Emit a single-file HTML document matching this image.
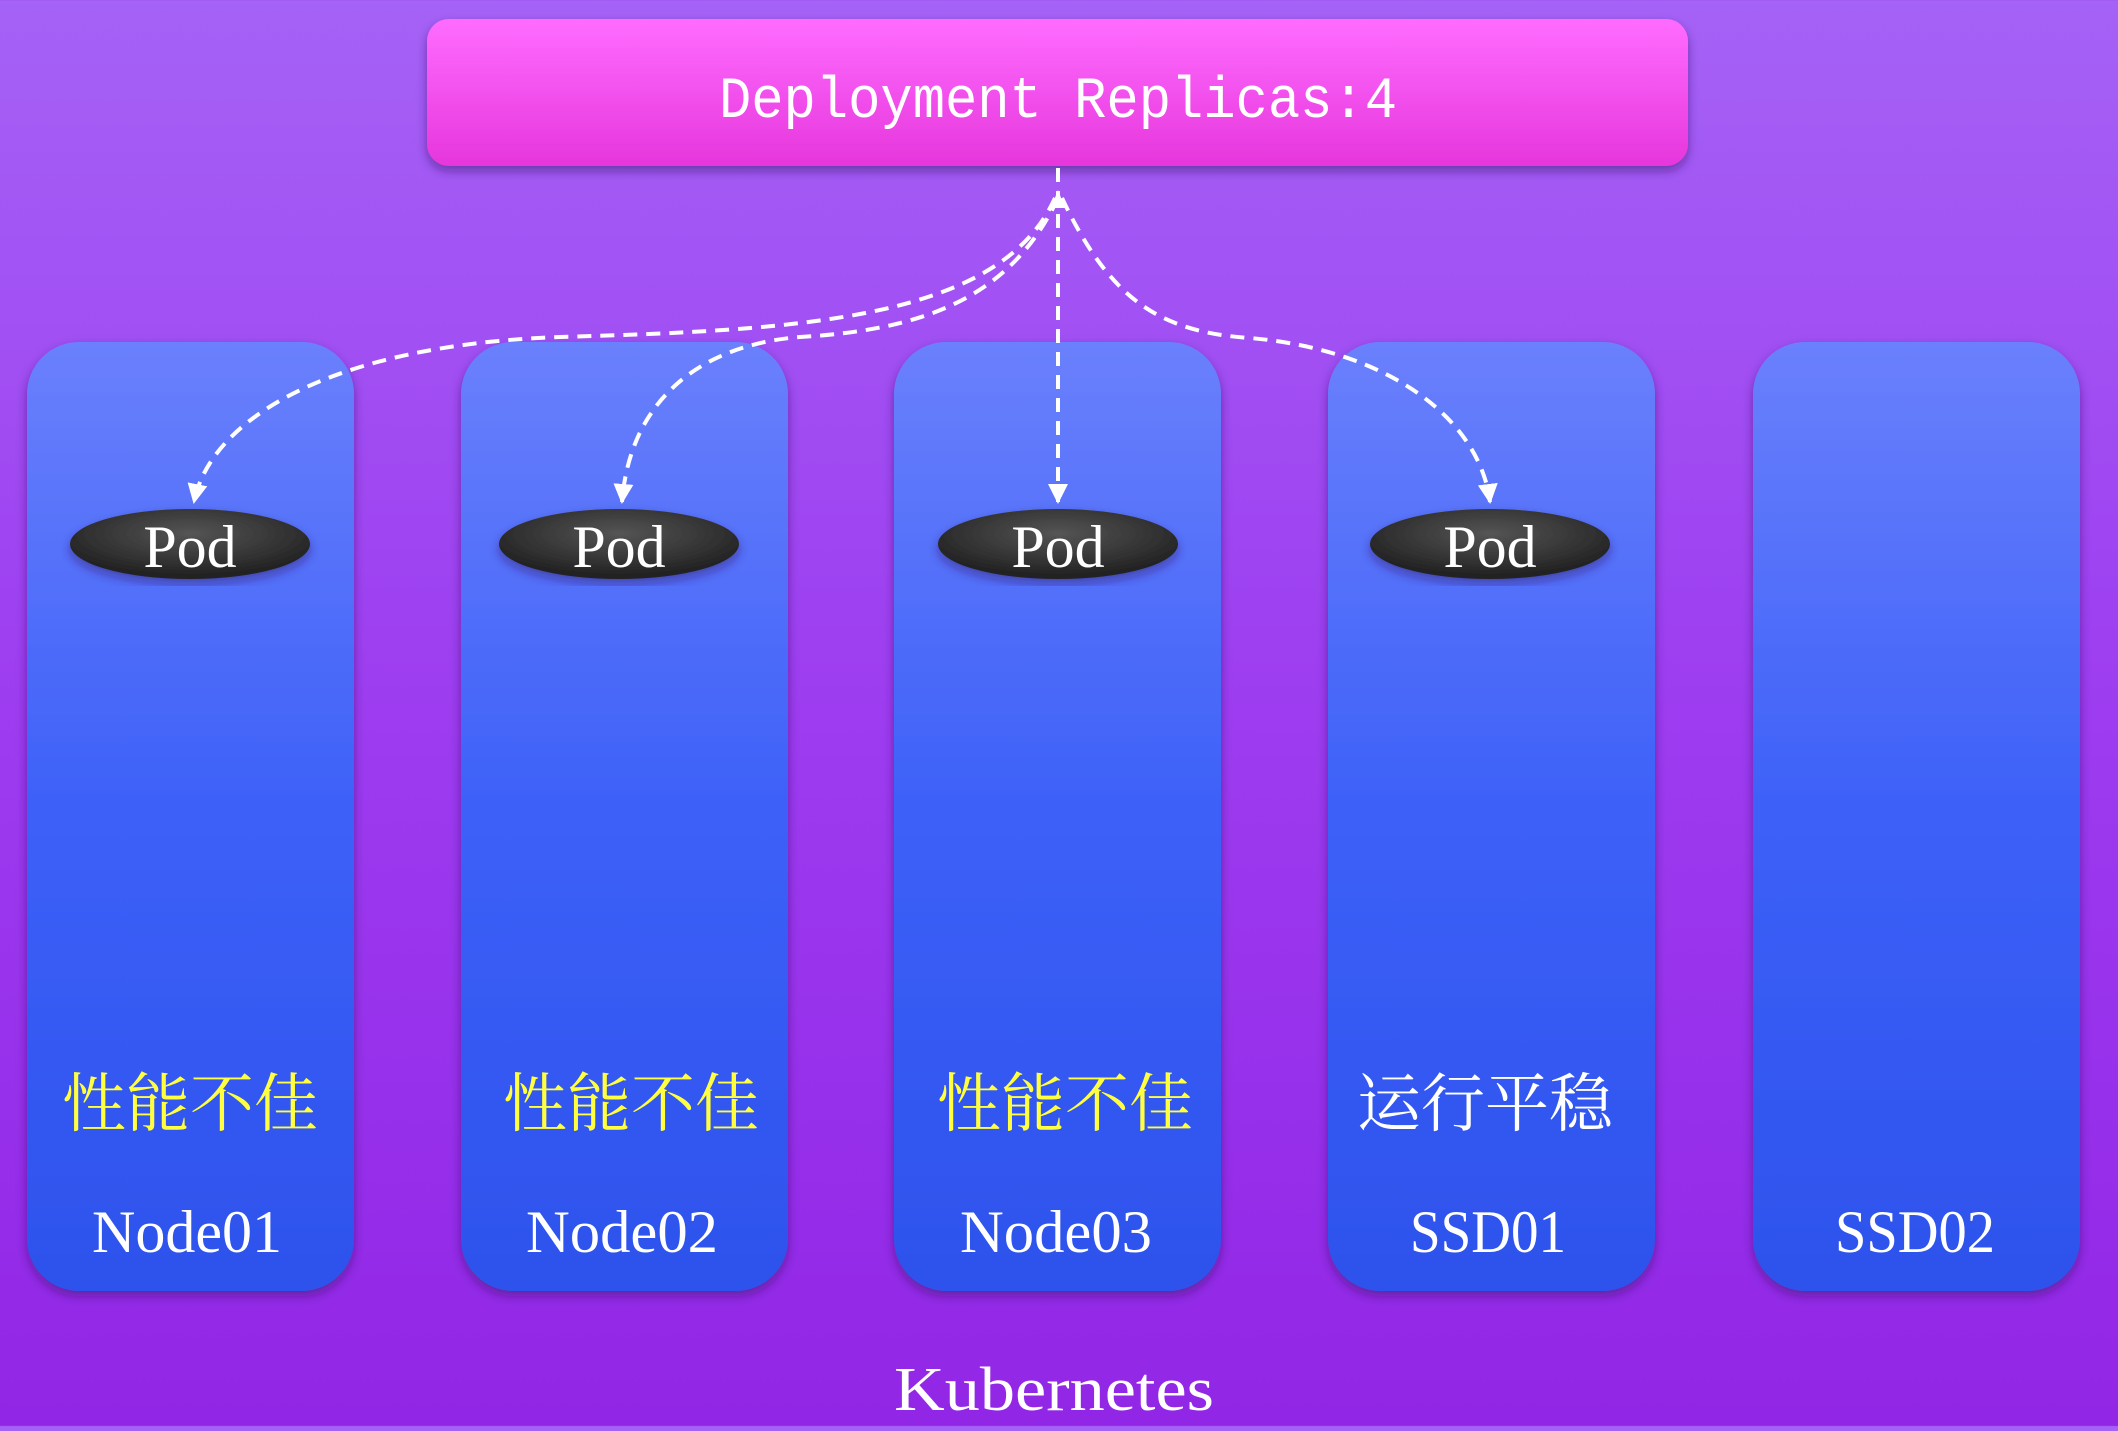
<!DOCTYPE html>
<html><head><meta charset="utf-8"><style>
html,body{margin:0;padding:0}
body{width:2118px;height:1426px;overflow:hidden;background:linear-gradient(#a562f6,#9d3cf0 50%,#9226e6);}
</style></head><body>
<svg width="2118" height="1426" viewBox="0 0 2118 1426" xmlns="http://www.w3.org/2000/svg">
<defs>
<linearGradient id="col" x1="0" y1="0" x2="0" y2="1"><stop offset="0" stop-color="#6a80fc"/><stop offset="0.5" stop-color="#3c60f8"/><stop offset="1" stop-color="#2d52ec"/></linearGradient>
<linearGradient id="pk" x1="0" y1="0" x2="0" y2="1"><stop offset="0" stop-color="#ff6cff"/><stop offset="1" stop-color="#e636dc"/></linearGradient>
<radialGradient id="pod" cx="0.5" cy="0.35" r="0.6"><stop offset="0" stop-color="#555"/><stop offset="1" stop-color="#222"/></radialGradient>
<filter id="sh" x="-10%" y="-10%" width="120%" height="120%"><feDropShadow dx="0" dy="5" stdDeviation="5" flood-color="#301060" flood-opacity="0.5"/></filter>
<marker id="ar" markerWidth="6" markerHeight="6" refX="4.5" refY="2.5" orient="auto" markerUnits="strokeWidth"><path d="M0,0 L5,2.5 L0,5 Z" fill="#fff"/></marker>
</defs>
<rect x="427" y="19" width="1261" height="147" rx="22" fill="url(#pk)" filter="url(#sh)"/>
<text x="1058" y="117" text-anchor="middle" font-family="Liberation Mono, monospace" font-size="47" fill="#fff" textLength="678" lengthAdjust="spacingAndGlyphs" transform="translate(0,-29) scale(1,1.25)">Deployment Replicas:4</text>
<g filter="url(#sh)" fill="url(#col)">
<rect x="27" y="342" width="327" height="949" rx="52"/>
<rect x="461" y="342" width="327" height="949" rx="52"/>
<rect x="894" y="342" width="327" height="949" rx="52"/>
<rect x="1328" y="342" width="327" height="949" rx="52"/>
<rect x="1753" y="342" width="327" height="949" rx="52"/>
</g>
<g fill="none" stroke="#fff" stroke-width="4" stroke-dasharray="14,9" marker-end="url(#ar)">
<path d="M1058,168 L1058,502"/>
<path d="M1055,198 C1000,320 800,330 560,337 C330,345 210,420 194,502"/>
<path d="M1058,198 C1010,300 920,330 800,337 C700,345 630,400 622,502"/>
<path d="M1062,198 C1110,300 1160,332 1250,338 C1390,350 1480,420 1490,502"/>
</g>
<path d="M1051,208 L1058,190 L1065,208 Z" fill="#fff"/>
<g filter="url(#sh)" fill="url(#pod)">
<ellipse cx="190" cy="544" rx="120" ry="35"/>
<ellipse cx="619" cy="544" rx="120" ry="35"/>
<ellipse cx="1058" cy="544" rx="120" ry="35"/>
<ellipse cx="1490" cy="544" rx="120" ry="35"/>
</g>
<g font-family="Liberation Serif, serif" font-size="60" fill="#fff" text-anchor="middle">
<text x="190" y="567">Pod</text><text x="619" y="567">Pod</text><text x="1058" y="567">Pod</text><text x="1490" y="567">Pod</text>
</g>
<g font-family="Liberation Serif, 'Noto Serif CJK SC', serif" font-size="64" text-anchor="middle">
<text x="190" y="1126" fill="#ffff40">性能不佳</text>
<text x="631" y="1126" fill="#ffff40">性能不佳</text>
<text x="1065" y="1126" fill="#ffff40">性能不佳</text>
<text x="1485" y="1126" fill="#fff">运行平稳</text>
</g>
<g font-family="Liberation Serif, serif" font-size="60" fill="#fff" text-anchor="middle">
<text x="187" y="1252" textLength="190" lengthAdjust="spacingAndGlyphs">Node01</text>
<text x="622" y="1252" textLength="192" lengthAdjust="spacingAndGlyphs">Node02</text>
<text x="1056" y="1252" textLength="192" lengthAdjust="spacingAndGlyphs">Node03</text>
<text x="1488" y="1252" textLength="156" lengthAdjust="spacingAndGlyphs">SSD01</text>
<text x="1915" y="1252" textLength="160" lengthAdjust="spacingAndGlyphs">SSD02</text>
<text x="1054" y="1410" textLength="320" lengthAdjust="spacingAndGlyphs" font-size="62">Kubernetes</text>
</g>
</svg>
</body></html>
